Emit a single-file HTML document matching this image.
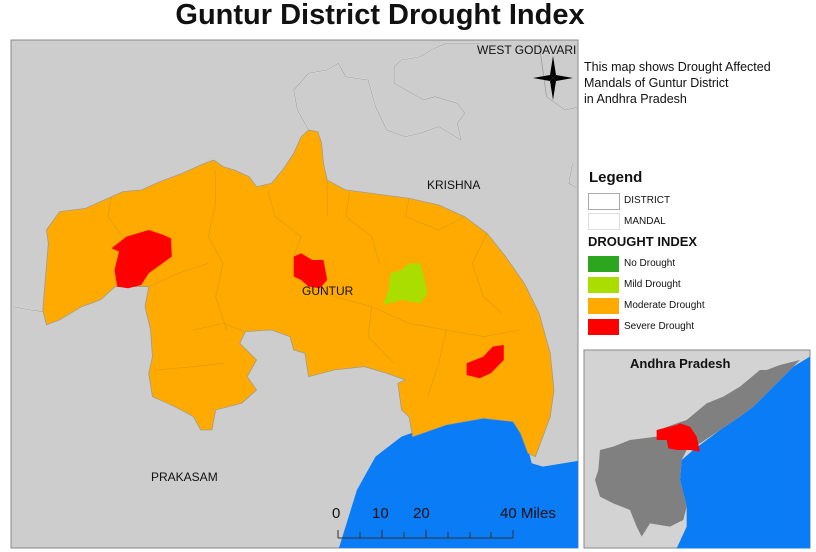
<!DOCTYPE html>
<html><head><meta charset="utf-8"><style>
body{margin:0;width:816px;height:552px;background:#fff;font-family:"Liberation Sans",Arial,sans-serif;position:relative;overflow:hidden}
.t{position:absolute;white-space:nowrap;color:#111}
</style></head><body>
<div class="t" style="left:0;width:760px;text-align:center;top:-1px;font-size:29px;font-weight:bold">Guntur District Drought Index</div>
<svg width="816" height="552" style="position:absolute;left:0;top:0">
<rect x="11" y="40" width="567" height="508" fill="#cdcdcd" stroke="#888" stroke-width="1"/>
<svg x="11" y="40" width="567" height="508" overflow="hidden">
<g transform="translate(-11,-10) scale(0.3718,0.3333)">
<path fill="none" stroke="#fff" stroke-width="3" d="M830,300 L800,240 790,180 830,130 880,120 910,100 930,140 990,150 1010,230 1040,300 1090,320 1130,310 1180,290 1240,330 1230,280 1250,250 1230,220 1170,200 1140,210 1060,160 1060,110 1080,90 1130,80 1160,60 1200,40 1290,40 M1470,200 L1520,240 1560,230 M1540,400 L1530,460 1560,480 M35,830 L80,840 115,845"/>
<path fill="none" stroke="#999" stroke-width="2" d="M830,300 L800,240 790,180 830,130 880,120 910,100 930,140 990,150 1010,230 1040,300 1090,320 1130,310 1180,290 1240,330 1230,280 1250,250 1230,220 1170,200 1140,210 1060,160 1060,110 1080,90 1130,80 1160,60 1200,40 1290,40 M1450,40 L1470,200 1520,240 1560,230 M1540,400 L1530,460 1560,480 M35,830 L80,840 115,845"/>
<path fill="#0a7cf5" d="M910,1560 L960,1380 1010,1280 1080,1220 1180,1180 1300,1160 1380,1175 1410,1210 1430,1300 1460,1310 1570,1290 L1570,1560 Z"/>
<path fill="#ffaa00" stroke="#999" stroke-width="2" d="M125,885 L115,840 130,640 125,600 160,545 230,535 300,500 330,485 380,480 430,455 490,430 550,400 575,390 600,410 630,420 670,440 690,470 730,460 760,420 790,370 810,320 830,300 855,305 865,340 870,400 880,450 930,480 1000,490 1100,505 1180,525 1250,560 1310,610 1360,680 1410,760 1450,850 1480,970 1490,1080 1480,1160 1460,1220 1440,1280 1420,1270 1400,1210 1380,1175 1300,1165 1200,1185 1110,1220 1100,1160 1080,1140 1070,1060 1090,1050 1040,1030 980,1010 900,1020 830,1040 820,970 790,960 780,920 730,900 660,905 645,940 690,990 665,1040 690,1080 650,1120 580,1140 570,1200 540,1200 520,1160 470,1130 440,1115 410,1100 400,1030 410,980 405,900 390,830 400,770 360,770 310,770 270,810 220,830 160,870 Z"/>
<path fill="none" stroke="#e09a10" stroke-width="2" d="M300,500 L290,560 330,620 M580,420 L580,520 560,620 600,700 580,800 610,900 M720,480 L740,560 810,620 790,680 M940,490 L930,560 1000,620 1020,700 M1100,505 L1090,560 1180,600 1250,560 M400,770 L480,730 560,700 M820,770 L900,800 1000,830 1100,880 1200,900 1300,920 1400,900 M1000,830 L990,920 1060,1000 M1200,900 L1180,1000 1150,1100 M520,900 L600,880 660,905 M420,1020 L520,1010 600,1000 M880,450 L880,560 M1310,610 L1270,700 1300,800 1350,850"/>
<path fill="#ff0000" d="M300,655 L340,620 400,600 440,615 460,625 462,680 400,730 380,765 345,775 315,770 308,720 320,665 Z"/>
<path fill="#ff0000" d="M790,680 L810,670 840,690 870,690 880,750 860,775 830,770 810,750 790,740 790,700 Z"/>
<path fill="#aadd00" d="M1050,730 L1080,720 1100,700 1130,700 1140,740 1150,790 1130,820 1080,810 1030,825 1045,780 Z"/>
<path fill="#ff0000" d="M1255,1000 L1300,980 1325,950 1355,945 1355,990 1320,1030 1290,1045 1255,1035 Z"/>
</g>
</svg>
<g transform="translate(553,78)">
<polygon points="0,-22 3,-3 0,0 -3,-3" fill="#000"/><polygon points="0,22 3,3 0,0 -3,3" fill="#000"/>
<polygon points="-20,0 -3,-3 0,0 -3,3" fill="#000"/><polygon points="20,0 3,-3 0,0 3,3" fill="#000"/>
</g>
<g stroke="#333" stroke-width="1">
<line x1="338" y1="538" x2="513" y2="538"/>
<line x1="338" y1="530" x2="338" y2="538"/><line x1="360" y1="532" x2="360" y2="538"/><line x1="382" y1="530" x2="382" y2="538"/><line x1="404" y1="532" x2="404" y2="538"/><line x1="426" y1="530" x2="426" y2="538"/><line x1="448" y1="532" x2="448" y2="538"/><line x1="470" y1="532" x2="470" y2="538"/><line x1="491" y1="532" x2="491" y2="538"/><line x1="513" y1="530" x2="513" y2="538"/>
</g>
<rect x="584" y="350" width="226" height="198" fill="#d3d3d3" stroke="#888"/>
<g transform="translate(580,340) scale(0.3333)">
<path fill="#0a7cf5" d="M690,50 L640,80 580,140 520,200 480,230 420,270 380,300 340,330 305,360 300,420 320,500 320,560 290,625 L690,625 Z"/>
<path fill="#808080" d="M560,90 L600,75 660,60 640,80 580,140 520,200 480,230 420,270 360,310 320,330 305,360 300,420 320,500 310,540 270,560 210,550 185,590 170,560 150,510 100,490 60,470 45,420 55,390 60,330 100,320 150,300 230,290 235,270 290,250 320,240 380,190 430,170 480,140 540,90 Z"/>
<path fill="#ff0000" d="M230,270 L290,255 300,250 330,260 350,290 360,335 330,330 290,330 265,325 260,300 230,300 Z"/>
</g>
</svg>
<div class="t" style="left:477px;top:43px;font-size:12px">WEST GODAVARI</div>
<div class="t" style="left:427px;top:178px;font-size:12px">KRISHNA</div>
<div class="t" style="left:302px;top:284px;font-size:12px">GUNTUR</div>
<div class="t" style="left:151px;top:470px;font-size:12px">PRAKASAM</div>
<div class="t" style="left:0;top:505px;font-size:15px"><span style="position:absolute;left:332px">0</span><span style="position:absolute;left:372px">10</span><span style="position:absolute;left:413px">20</span><span style="position:absolute;left:500px">40 Miles</span></div>
<div class="t" style="left:584px;top:59px;font-size:12.5px;line-height:16px">This map shows Drought Affected<br>Mandals of Guntur District<br>in Andhra Pradesh</div>
<div class="t" style="left:589px;top:169px;font-size:15px;font-weight:bold">Legend</div>
<div><div style="position:absolute;left:588px;top:193px;width:30px;height:15px;border:1px solid #aaa;background:#fff"></div><div class="t" style="left:624px;top:195px;font-size:10px">DISTRICT</div></div>
<div><div style="position:absolute;left:588px;top:213px;width:30px;height:15px;border:1px solid #ddd;background:#fff"></div><div class="t" style="left:624px;top:216px;font-size:10px">MANDAL</div></div>
<div class="t" style="left:588px;top:234px;font-size:13px;font-weight:bold">DROUGHT INDEX</div>
<div id="legend"></div>
<div class="t" style="left:630px;top:356px;font-size:13px;font-weight:bold">Andhra Pradesh</div>
<script>
const categories=["No Drought","Mild Drought","Moderate Drought","Severe Drought"];
const colors=["#2ca61e","#aadd00","#ffaa00","#ff0000"];
const lg=document.getElementById('legend');
categories.forEach((c,i)=>{
  const d=document.createElement('div');
  
  
  d.innerHTML='<div style="position:absolute;left:588px;top:'+(256+i*21)+'px;width:31px;height:16px;background:'+colors[i]+'"></div><div class="t" style="left:624px;top:'+(258+i*21)+'px;font-size:10px">'+c+'</div>';
  lg.appendChild(d);
});
</script>
</body></html>
